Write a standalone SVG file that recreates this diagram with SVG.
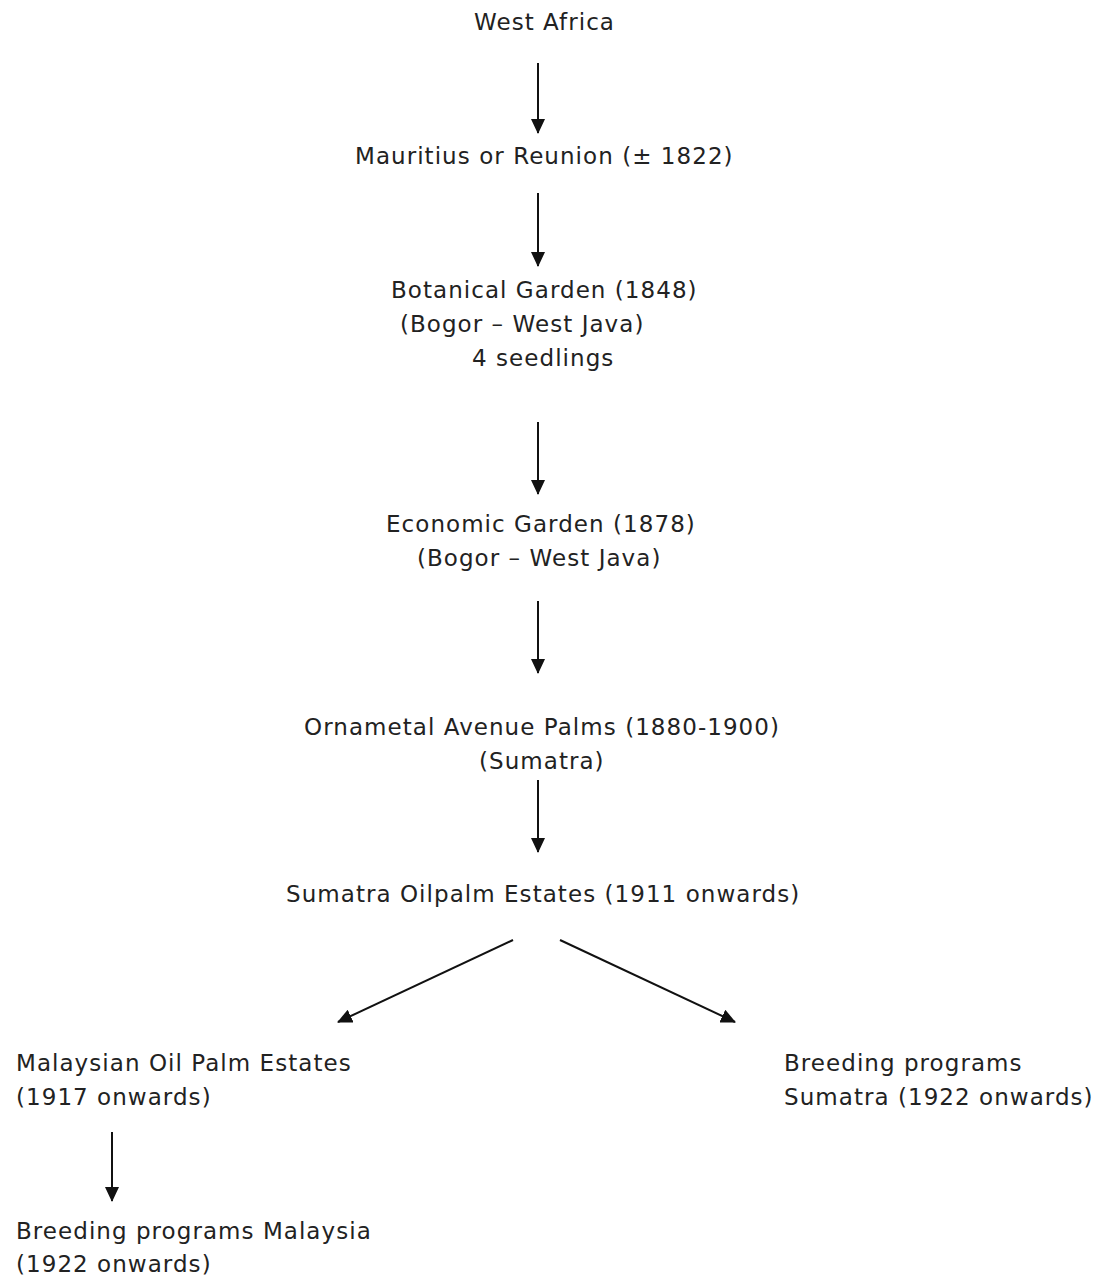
<svg xmlns="http://www.w3.org/2000/svg" width="1104" height="1275" viewBox="0 0 1104 1275">
<style>
text { font-family: "DejaVu Sans", Verdana, sans-serif; font-size: 23px; letter-spacing: 1.05px; fill: #222; }
.c { stroke: #111; stroke-width: 2; fill: none; marker-end: url(#ah); }
</style>
<defs>
<marker id="ah" markerWidth="15" markerHeight="14" refX="14" refY="7" orient="auto" markerUnits="userSpaceOnUse" viewBox="0 0 15 14">
<path d="M0,0 L15,7 L0,14 z" fill="#111"/>
</marker>
</defs>
<rect width="1104" height="1275" fill="#fff"/>
<g id="connectors">
<line class="c" x1="538" y1="63" x2="538" y2="133"/>
<line class="c" x1="538" y1="193" x2="538" y2="266"/>
<line class="c" x1="538" y1="422" x2="538" y2="494"/>
<line class="c" x1="538" y1="601" x2="538" y2="673"/>
<line class="c" x1="538" y1="780" x2="538" y2="852"/>
<line class="c" x1="513" y1="940" x2="338" y2="1022"/>
<line class="c" x1="560" y1="940" x2="735" y2="1022"/>
<line class="c" x1="112" y1="1132" x2="112" y2="1201"/>
</g>
<g id="west-africa"><text x="474" y="30">West Africa</text></g>
<g id="mauritius"><text x="355" y="164">Mauritius or Reunion (± 1822)</text></g>
<g id="botanical"><text x="391" y="298">Botanical Garden (1848)</text><text x="400" y="332">(Bogor – West Java)</text><text x="472" y="366">4 seedlings</text></g>
<g id="economic"><text x="386" y="532">Economic Garden (1878)</text><text x="417" y="566">(Bogor – West Java)</text></g>
<g id="ornamental"><text x="304" y="735">Ornametal Avenue Palms (1880-1900)</text><text x="479" y="769">(Sumatra)</text></g>
<g id="sumatra-estates"><text x="286" y="902">Sumatra Oilpalm Estates (1911 onwards)</text></g>
<g id="malaysian-estates"><text x="16" y="1071">Malaysian Oil Palm Estates</text><text x="16" y="1105">(1917 onwards)</text></g>
<g id="breeding-sumatra"><text x="784" y="1071">Breeding programs</text><text x="784" y="1105">Sumatra (1922 onwards)</text></g>
<g id="breeding-malaysia"><text x="16" y="1239">Breeding programs Malaysia</text><text x="16" y="1272">(1922 onwards)</text></g>
</svg>
